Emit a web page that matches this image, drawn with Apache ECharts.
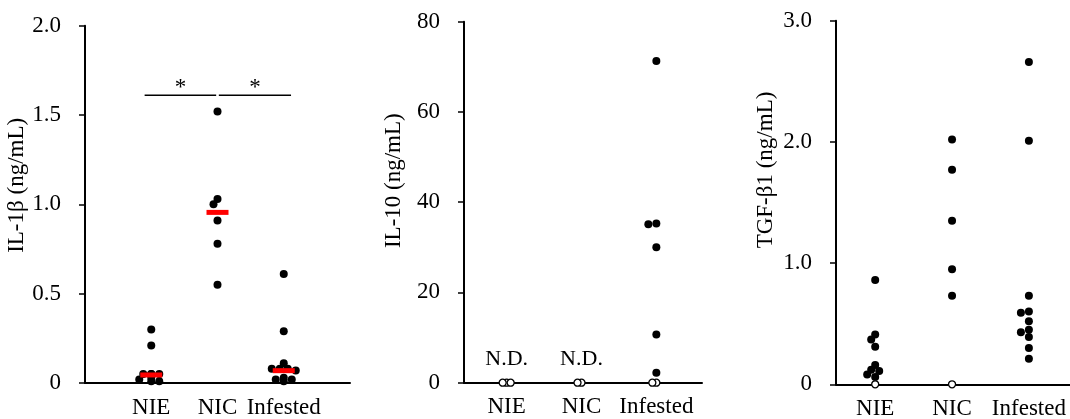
<!DOCTYPE html>
<html>
<head>
<meta charset="utf-8">
<script src="https://cdn.jsdelivr.net/npm/echarts@6/dist/echarts.min.js"></script>
<style>
  html, body { margin: 0; padding: 0; background: #fff; }
  #chart { width: 1070px; height: 419px; }
</style>
</head>
<body>
<div id="chart"></div>
<script>
  // groups along the x axis
  const categories = ['NIE', 'NIC', 'Infested'];

  // IL-1β (ng/mL)
  const il1bNIE = [0.30, 0.21, 0.05, 0.05, 0.05, 0.05, 0.03, 0.02, 0.01, 0.01];
  const il1bNIC = [1.52, 1.03, 1.00, 0.91, 0.78, 0.55];
  const il1bInf = [0.61, 0.29, 0.11, 0.08, 0.08, 0.08, 0.07, 0.03, 0.02, 0.02, 0.01];
  const il1bMedian = [0.045, 0.955, 0.069];
  const il1bTicks = ['0', '0.5', '1.0', '1.5', '2.0'];

  // IL-10 (ng/mL), open circles = not detected
  const il10NIE = [];
  const il10NIC = [];
  const il10Inf = [71.3, 35.3, 35.1, 30.0, 10.7, 2.2];
  const il10NDNIE = [0, 0, 0];
  const il10NDNIC = [0, 0];
  const il10NDInf = [0, 0];
  const il10Ticks = ['0', '20', '40', '60', '80'];

  // TGF-β1 (ng/mL)
  const tgfNIE = [0.86, 0.41, 0.37, 0.31, 0.16, 0.12, 0.11, 0.08, 0.06];
  const tgfNIC = [2.02, 1.77, 1.35, 0.95, 0.73];
  const tgfInf = [2.66, 2.01, 0.73, 0.60, 0.59, 0.52, 0.45, 0.43, 0.39, 0.30, 0.21];
  const tgfNDNIE = [0];
  const tgfNDNIC = [0];
  const tgfNDInf = [];
  const tgfTicks = ['0', '1.0', '2.0', '3.0'];

  const FONT = 'Liberation Serif';
  const FS = 23;
  const DOT = 8;

  // simple beeswarm: push overlapping dots sideways (pixels)
  function swarm(values, group, pxPerUnit, step, size) {
    const placed = [];
    return values.map(function (v) {
      const py = v * pxPerUnit;
      const tries = [0, -step, step, -2 * step, 2 * step, -3 * step, 3 * step];
      let dx = 0;
      for (let t of tries) {
        const ok = placed.every(function (p) {
          return Math.hypot(p[0] - t, p[1] - py) >= size;
        });
        if (ok) { dx = t; break; }
      }
      placed.push([dx, py]);
      return { value: [group, v], symbolOffset: [dx, 0] };
    });
  }

  let myChart = echarts.init(document.getElementById('chart'));

  const grids = [
    { left: 85, top: 25.7, width: 265, bottom: 36, xmin: 0, xmax: 4, ymax: 2, yint: 0.5, ticks: il1bTicks,
      name: 'IL-1β (ng/mL)', pad: [0, 0, 0, 38], gap: 55 },
    { left: 464, top: 21.7, width: 238, bottom: 36.3, xmin: 0.43, xmax: 3.61, ymax: 80, yint: 20, ticks: il10Ticks,
      name: 'IL-10 (ng/mL)', pad: [0, 0, 0, 43], gap: 59 },
    { left: 836, top: 20.7, width: 239, bottom: 34.7, xmin: 0.49, xmax: 3.6, ymax: 3, yint: 1, ticks: tgfTicks,
      name: 'TGF-β1 (ng/mL)', pad: [0, 0, 0, 65], gap: 59 }
  ];

  const textStyle = { fontFamily: FONT, fontSize: FS, color: '#000' };

  const series = [];
  function dots(gi, groupsVals, open) {
    const g = grids[gi];
    const h = 419 - g.top - g.bottom;
    const ppu = h / g.ymax;
    groupsVals.forEach(function (vals, k) {
      if (!vals.length) return;
      series.push({
        type: 'scatter', xAxisIndex: gi, yAxisIndex: gi,
        symbolSize: open ? 7 : DOT,
        itemStyle: open
          ? { color: '#fff', borderColor: '#000', borderWidth: 1.3, opacity: 1 }
          : { color: '#000', opacity: 1 },
        z: open ? 3 : 2,
        data: swarm(vals, k + 1, ppu, open ? 4 : 4, open ? 4 : 6)
      });
    });
  }

  dots(0, [il1bNIE, il1bNIC, il1bInf], false);
  dots(1, [il10NIE, il10NIC, il10Inf], false);
  dots(1, [il10NDNIE, il10NDNIC, il10NDInf], true);
  dots(2, [tgfNIE, tgfNIC, tgfInf], false);
  dots(2, [tgfNDNIE, tgfNDNIC, tgfNDInf], true);

  // median bars
  series.push({
    type: 'scatter', xAxisIndex: 0, yAxisIndex: 0,
    symbol: 'rect', symbolSize: [22, 5], z: 5,
    itemStyle: { color: '#ff0000', opacity: 1 },
    data: il1bMedian.map(function (v, i) { return [i + 1, v]; })
  });

  // significance brackets
  const sigY = 1.61;
  const sigPairs = [[0.9, 1.98], [2.02, 3.11]];
  sigPairs.forEach(function (p) {
    series.push({
      type: 'line', xAxisIndex: 0, yAxisIndex: 0, symbol: 'none', z: 4,
      lineStyle: { color: '#000', width: 1.5 },
      data: [[p[0], sigY], [p[1], sigY]]
    });
  });
  series.push({
    type: 'scatter', xAxisIndex: 0, yAxisIndex: 0, symbolSize: 0, z: 4,
    itemStyle: { opacity: 1 },
    label: { show: true, formatter: '*', position: 'inside', offset: [0, -7],
      fontFamily: FONT, fontSize: FS, color: '#000' },
    data: sigPairs.map(function (p) { return [(p[0] + p[1]) / 2, sigY]; })
  });

  // N.D. labels
  series.push({
    type: 'scatter', xAxisIndex: 1, yAxisIndex: 1, symbolSize: 0, z: 4,
    itemStyle: { opacity: 1 },
    label: { show: true, formatter: 'N.D.', position: 'inside', offset: [0, -23],
      fontFamily: FONT, fontSize: 22, color: '#000' },
    data: [[1, 0], [2, 0]]
  });

  myChart.setOption({
    animation: false,
    grid: grids.map(function (g) {
      return { left: g.left, top: g.top, width: g.width, bottom: g.bottom, outerBoundsMode: 'none' };
    }),
    xAxis: grids.map(function (g, i) {
      return {
        type: 'value', gridIndex: i, min: g.xmin, max: g.xmax,
        splitLine: { show: false },
        axisLine: { lineStyle: { color: '#000', width: 2 } },
        axisTick: { show: false },
        axisLabel: Object.assign({
          customValues: [1, 2, 3], margin: 13,
          formatter: function (v) { return categories[Math.round(v) - 1] || ''; }
        }, textStyle)
      };
    }),
    yAxis: grids.map(function (g, i) {
      return {
        type: 'value', gridIndex: i, min: 0, max: g.ymax, interval: g.yint,
        splitLine: { show: false },
        axisLine: { show: true, lineStyle: { color: '#000', width: 2 } },
        axisTick: { show: true, length: 6, lineStyle: { color: '#000', width: 1.5 } },
        axisLabel: Object.assign({
          margin: 24,
          formatter: function (v) { return g.ticks[Math.round(v / g.yint)]; }
        }, textStyle),
        name: g.name, nameLocation: 'middle', nameGap: g.gap, nameRotate: 90,
        nameTextStyle: Object.assign({ padding: g.pad }, textStyle)
      };
    }),
    series: series
  });
</script>
</body>
</html>
